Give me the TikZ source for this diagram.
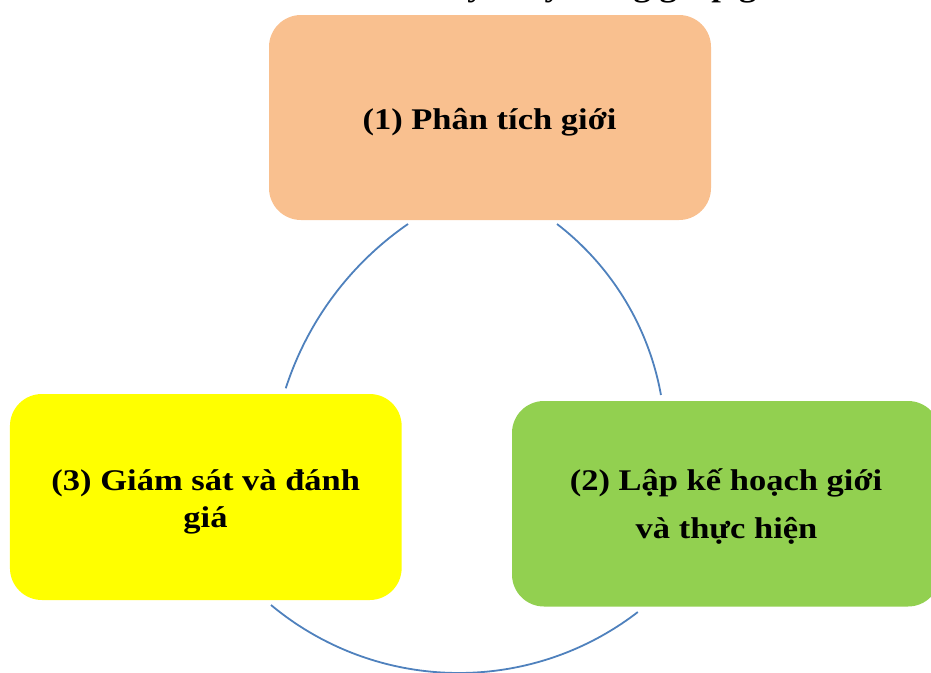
\documentclass[tikz,border=0pt]{standalone}
\usepackage{graphicx}
\usepackage{fontspec}
\setmainfont{Liberation Serif}
\definecolor{boxorange}{HTML}{F9C08F}
\definecolor{boxyellow}{HTML}{FFFF00}
\definecolor{boxgreen}{HTML}{92D050}
\definecolor{arcblue}{HTML}{4F81BD}
\newcommand{\wtxt}[1]{\scalebox{1.15}[1]{#1}}
\begin{document}
\begin{tikzpicture}[x=1pt,y=-1pt,
  stagebox/.style={rounded corners=32pt, inner sep=0pt, draw=none},
  stagetext/.style={font=\fontsize{30}{36}\selectfont\bfseries, inner sep=0pt, anchor=base},
  cyclearc/.style={draw=arcblue, line width=1.8pt}]
\useasboundingbox (0,0) rectangle (931,672);
\clip (0,0) rectangle (931,672);
% clipped title line
\node[stagetext, anchor=base west] (title) at (376,-3.5) {\wtxt{Chu kỳ\hspace{13pt} này\hspace{15pt} lồng ghép giới}};
% boxes
\node[stagebox, fill=boxorange, minimum width=442pt, minimum height=205pt] (s1) at (490,117.5) {};
\node[stagebox, fill=boxgreen, minimum width=428pt, minimum height=205.5pt] (s2) at (726,503.75) {};
\node[stagebox, fill=boxyellow, minimum width=391.7pt, minimum height=206pt] (s3) at (205.8,497) {};
% texts
\node[stagetext] (t1) at (489.5,129) {\wtxt{(1) Phân tích giới}};
\node[stagetext] (t2a) at (726,490) {\wtxt{(2) Lập kế hoạch giới}};
\node[stagetext] (t2b) at (726.5,538) {\wtxt{và thực hiện}};
\node[stagetext] (t3a) at (205.8,490) {\wtxt{(3) Giám sát và đánh}};
\node[stagetext] (t3b) at (205.5,527) {\wtxt{giá}};
% cycle arcs
\coordinate (a1) at (408,224);
\coordinate (a2) at (557,224);
\coordinate (a3) at (271,605);
\draw[cyclearc] (a1) arc[start angle=235.4, end angle=197.9, radius=318.5];
\draw[cyclearc] (a2) arc[start angle=-52.4, end angle=-10.2, radius=277.9];
\draw[cyclearc] (a3) arc[start angle=129.8, end angle=52.4, radius=293.4];
\end{tikzpicture}
\end{document}
